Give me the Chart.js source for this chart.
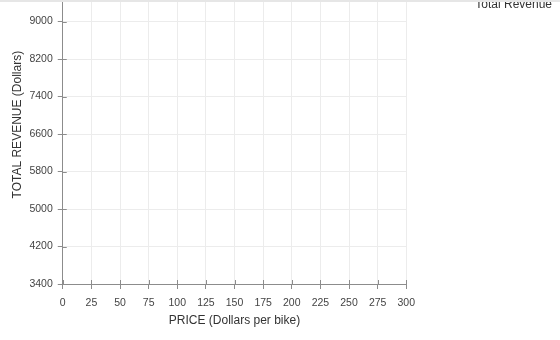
<!DOCTYPE html>
<html>
<head>
<meta charset="utf-8">
<script src="https://cdn.jsdelivr.net/npm/chart.js@4.4.1/dist/chart.umd.min.js"></script>
<style>
    html, body { margin: 0; padding: 0; background: #fff; }
    #frame { position: relative; width: 560px; height: 340px; overflow: hidden; }
    #topband { position: absolute; left: 0; top: 0; width: 560px; height: 2px; background: #e6e6e6; z-index: 2; }
    #holder { position: absolute; left: 0; top: -50px; width: 562px; height: 390px; }
</style>
</head>
<body>
<div id="frame">
    <div id="topband"></div>
    <div id="holder"><canvas id="revenue-chart" width="562" height="390"></canvas></div>
</div>
<script>
// Axis ticks
const priceTicks = [0, 25, 50, 75, 100, 125, 150, 175, 200, 225, 250, 275, 300];
const revenueTicks = [3400, 4200, 5000, 5800, 6600, 7400, 8200, 9000, 9800];
// the plot runs on past the top of the crop
const revenueMax = 10200;

// The revenue series has no points plotted yet
const seriesName = 'Total Revenue';
const revenuePoints = [];

const FONT = "'Liberation Sans', Arial, sans-serif";
const AXIS_GREY = '#8c8c8c';

// ticks in this chart cross the axis line, so draw the inner half too
const crossTicks = {
    id: 'crossTicks',
    afterDraw(chart) {
        const { ctx, chartArea, scales } = chart;
        const inner = 4;
        ctx.save();
        ctx.strokeStyle = AXIS_GREY;
        ctx.lineWidth = 1;
        ctx.beginPath();
        scales.x.ticks.forEach((t, i) => {
            const x = Math.round(scales.x.getPixelForTick(i)) + 0.5;
            ctx.moveTo(x, chartArea.bottom);
            ctx.lineTo(x, chartArea.bottom - inner);
        });
        scales.y.ticks.forEach((t, i) => {
            const y = Math.round(scales.y.getPixelForTick(i)) + 0.5;
            ctx.moveTo(chartArea.left, y);
            ctx.lineTo(chartArea.left + inner, y);
        });
        ctx.stroke();
        ctx.restore();
    }
};

const ctx = document.getElementById('revenue-chart');

// the legend column is wide (text sits far right), and Chart.js caps a side
// box at a quarter of the usable width, so the left padding is pulled
// negative and given back through the y title padding
new Chart(ctx, {
    type: 'scatter',
    data: {
        datasets: [{
            label: seriesName,
            data: revenuePoints,
            showLine: true,
            borderColor: '#2f6fb5',
            backgroundColor: '#2f6fb5'
        }]
    },
    options: {
        responsive: false,
        animation: false,
        layout: {
            padding: { top: 15.3, left: -68, right: 0, bottom: 12 }
        },
        plugins: {
            legend: {
                position: 'right',
                align: 'start',
                labels: {
                    color: '#333',
                    font: { family: FONT, size: 12 },
                    padding: 0,
                    boxWidth: 63,
                    boxHeight: 79,
                    generateLabels: (chart) => chart.data.datasets.map((ds, i) => ({
                        text: ds.label,
                        fillStyle: 'rgba(0,0,0,0)',
                        strokeStyle: 'rgba(0,0,0,0)',
                        lineWidth: 0,
                        fontColor: '#333',
                        datasetIndex: i
                    }))
                }
            },
            tooltip: { enabled: false }
        },
        scales: {
            x: {
                type: 'linear',
                min: priceTicks[0],
                max: priceTicks[priceTicks.length - 1],
                afterBuildTicks: (scale) => {
                    scale.ticks = priceTicks.map(v => ({ value: v }));
                },
                grid: {
                    color: '#ececec',
                    tickColor: AXIS_GREY,
                    tickLength: 5
                },
                border: { color: AXIS_GREY, width: 1 },
                ticks: {
                    color: '#444',
                    padding: 8,
                    maxRotation: 0,
                    font: { family: FONT, size: 10.5 }
                },
                title: {
                    display: true,
                    text: 'PRICE (Dollars per bike)',
                    color: '#333',
                    padding: { top: -4, bottom: 0 },
                    font: { family: FONT, size: 12 }
                }
            },
            y: {
                type: 'linear',
                min: revenueTicks[0],
                max: revenueMax,
                afterBuildTicks: (scale) => {
                    scale.ticks = revenueTicks.map(v => ({ value: v }));
                },
                grid: {
                    color: '#ececec',
                    tickColor: AXIS_GREY,
                    tickLength: 5
                },
                border: { color: AXIS_GREY, width: 1 },
                ticks: {
                    color: '#444',
                    padding: 5,
                    font: { family: FONT, size: 10.5 },
                    callback: (v) => String(v)
                },
                title: {
                    display: true,
                    text: 'TOTAL REVENUE (Dollars)',
                    color: '#333',
                    padding: { top: 78, bottom: 0 },
                    font: { family: FONT, size: 12 }
                }
            }
        }
    },
    plugins: [crossTicks]
});
</script>
</body>
</html>
